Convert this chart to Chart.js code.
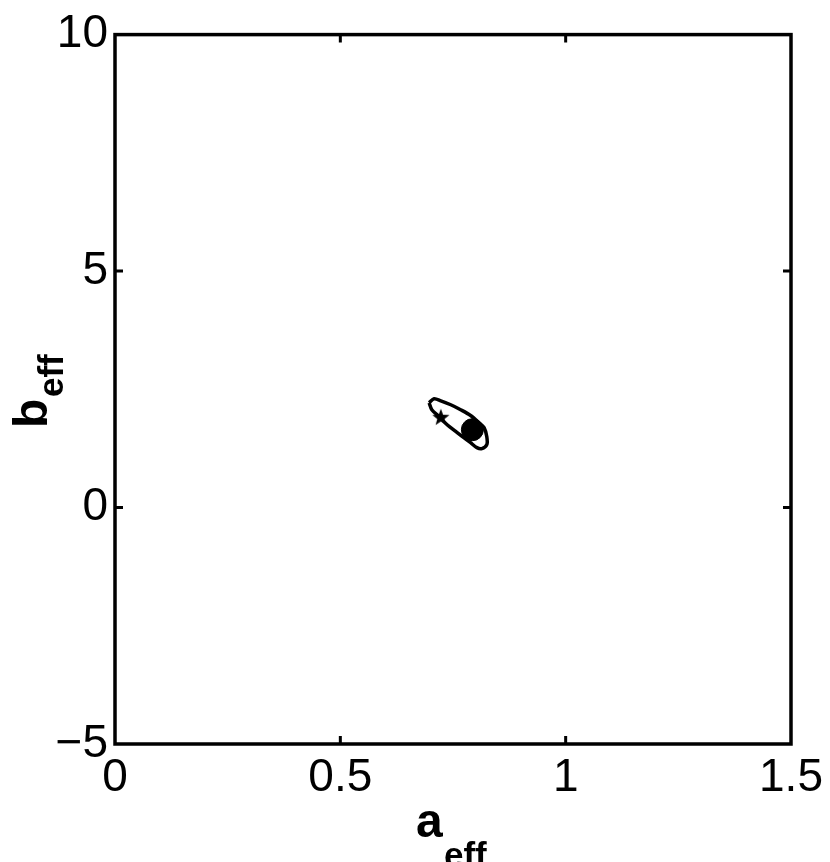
<!DOCTYPE html>
<html>
<head>
<meta charset="utf-8">
<script src="https://cdn.jsdelivr.net/npm/chart.js@4/dist/chart.umd.min.js"></script>
<style>
  html, body { margin: 0; padding: 0; background: #fff; }
  #wrap { width: 830px; height: 862px; position: relative; }
</style>
</head>
<body>
<div id="wrap"><canvas id="plot"></canvas></div>
<script>
// contour of the confidence region (a_eff, b_eff)
const contourA = [0.697, 0.708, 0.723, 0.745, 0.767, 0.789, 0.808, 0.819, 0.825, 0.825, 0.814, 0.803, 0.789, 0.774, 0.756, 0.737, 0.719, 0.703, 0.697];
const contourB = [2.215, 2.300, 2.257, 2.173, 2.068, 1.947, 1.793, 1.688, 1.498, 1.329, 1.245, 1.266, 1.371, 1.477, 1.610, 1.751, 1.926, 2.068, 2.215];

// best fit (filled dot) and start point (star)
const bestFit = [0.793, 1.646];
const startPt = [0.723, 1.899];

const xTicks = [0, 0.5, 1, 1.5];
const yTicks = [-5, 0, 5, 10];
const xTitle = ['a', 'eff'];
const yTitle = ['b', 'eff'];

const FONT = '"Liberation Sans", Arial, Helvetica, sans-serif';

const contourPts = contourA.map((a, i) => ({ x: a, y: contourB[i] }));

// filled five-point star used as marker
function makeStar(r) {
    const c = document.createElement('canvas');
    c.width = c.height = 2 * r + 4;
    const g = c.getContext('2d');
    g.translate(r + 2, r + 2);
    g.beginPath();
    for (let i = 0; i < 10; i++) {
        const rr = i % 2 ? r * 0.42 : r;
        const ang = -Math.PI / 2 + i * Math.PI / 5;
        g.lineTo(rr * Math.cos(ang), rr * Math.sin(ang));
    }
    g.closePath();
    g.fillStyle = '#000';
    g.fill();
    return c;
}

// frame, inward ticks and subscripted axis titles
const framePlugin = {
    id: 'frame',
    afterDraw(chart) {
        const ctx = chart.ctx;
        const area = chart.chartArea;
        const xs = chart.scales.x, ys = chart.scales.y;
        ctx.save();
        ctx.strokeStyle = '#000';
        ctx.lineWidth = 3.5;
        ctx.strokeRect(area.left, area.top, area.right - area.left, area.bottom - area.top);

        ctx.lineWidth = 3;
        const tl = 8;
        ctx.beginPath();
        xTicks.slice(1, -1).forEach(v => {
            const px = xs.getPixelForValue(v);
            ctx.moveTo(px, area.bottom); ctx.lineTo(px, area.bottom - tl);
            ctx.moveTo(px, area.top); ctx.lineTo(px, area.top + tl);
        });
        yTicks.slice(1, -1).forEach(v => {
            const py = ys.getPixelForValue(v);
            ctx.moveTo(area.left, py); ctx.lineTo(area.left + tl, py);
            ctx.moveTo(area.right, py); ctx.lineTo(area.right - tl, py);
        });
        ctx.stroke();

        ctx.fillStyle = '#000';
        ctx.textBaseline = 'alphabetic';
        ctx.textAlign = 'left';
        // x title
        ctx.font = 'bold 48px ' + FONT;
        ctx.fillText(xTitle[0], 416, 837);
        ctx.font = 'bold 35px ' + FONT;
        ctx.fillText(xTitle[1], 444, 867);
        // y title (rotated)
        ctx.translate(47, 428);
        ctx.rotate(-Math.PI / 2);
        ctx.font = 'bold 48px ' + FONT;
        ctx.fillText(yTitle[0], 0, 0);
        ctx.font = 'bold 35px ' + FONT;
        ctx.fillText(yTitle[1], 31, 16);
        ctx.restore();
    }
};

new Chart(document.getElementById('plot'), {
    type: 'scatter',
    data: {
        datasets: [
            {
                label: 'contour',
                data: contourPts,
                showLine: true,
                borderColor: '#000',
                borderWidth: 3.5,
                pointRadius: 0,
                tension: 0.3,
                fill: false
            },
            {
                label: 'start',
                data: [{ x: startPt[0], y: startPt[1] }],
                pointStyle: makeStar(9),
                pointRadius: 9
            },
            {
                label: 'best',
                data: [{ x: bestFit[0], y: bestFit[1] }],
                pointStyle: 'circle',
                pointRadius: 11,
                borderColor: '#000',
                backgroundColor: '#000'
            }
        ]
    },
    options: {
        responsive: true,
        maintainAspectRatio: false,
        animation: false,
        layout: { padding: { left: 0, top: 33, right: 39, bottom: 0 } },
        plugins: { legend: { display: false }, tooltip: { enabled: false } },
        scales: {
            x: {
                type: 'linear',
                min: xTicks[0], max: xTicks[xTicks.length - 1],
                afterBuildTicks: s => { s.ticks = xTicks.map(v => ({ value: v })); },
                afterFit: s => { s.height = 118; },
                grid: { display: false, drawTicks: false },
                border: { display: false },
                ticks: {
                    padding: 7,
                    color: '#000',
                    maxRotation: 0,
                    font: { family: FONT, size: 46 },
                    callback: v => String(v)
                }
            },
            y: {
                type: 'linear',
                min: yTicks[0], max: yTicks[yTicks.length - 1],
                afterBuildTicks: s => { s.ticks = yTicks.map(v => ({ value: v })); },
                afterFit: s => { s.width = 115; },
                grid: { display: false, drawTicks: false },
                border: { display: false },
                ticks: {
                    padding: 7,
                    color: '#000',
                    font: { family: FONT, size: 46 },
                    callback: v => (v < 0 ? '\u2212' + Math.abs(v) : String(v))
                }
            }
        }
    },
    plugins: [framePlugin]
});
</script>
</body>
</html>
